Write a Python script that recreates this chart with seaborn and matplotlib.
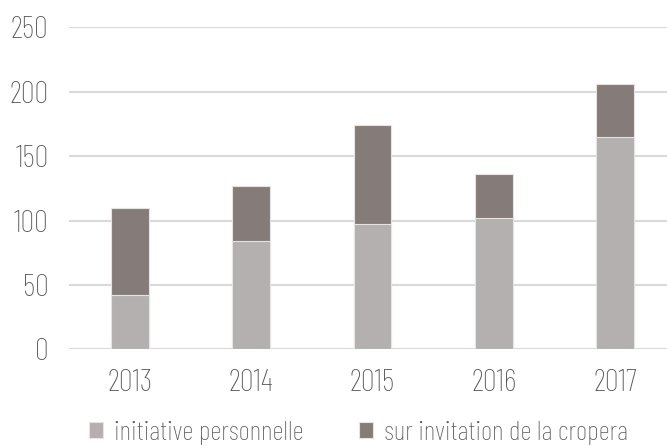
import numpy as np
import pandas as pd
import matplotlib
import matplotlib.pyplot as plt
import seaborn as sns

matplotlib.use('Agg')

# Données
years = ['2013', '2014', '2015', '2016', '2017']
initiative = [42, 84, 97, 102, 165]
invitation = [68, 43, 77, 34, 41]

labels = ['initiative personnelle', 'sur invitation de la cropera']
col_light = '#b3b0af'
col_dark = '#857c7a'
text_col = '#595959'

df = pd.DataFrame({'annee': years, 'initiative': initiative, 'invitation': invitation})
df['total'] = df['initiative'] + df['invitation']

sns.set_style('white')
plt.rcParams['font.family'] = ['Barlow Condensed', 'Fira Sans Condensed', 'Roboto', 'DejaVu Sans']
plt.rcParams['font.weight'] = 'light'

fig = plt.figure(figsize=(6.67, 4.46), dpi=100)
ax = fig.add_axes([0.104, 0.2168, 0.909, 0.722])

# barre totale (foncée) puis initiative (claire) par-dessus
sns.barplot(data=df, x='annee', y='total', color=col_dark, saturation=1, width=0.31,
            edgecolor='#e6e4e3', linewidth=0.8, label=labels[1], ax=ax, zorder=3)
sns.barplot(data=df, x='annee', y='initiative', color=col_light, saturation=1, width=0.31,
            edgecolor='#e6e4e3', linewidth=0.8, label=labels[0], ax=ax, zorder=3)

ax.set_ylim(0, 250)
ax.set_yticks(np.arange(0, 251, 50))
ax.set_xlim(-0.5, 4.5)
ax.yaxis.grid(True, color='#d9d9d9', linewidth=1.5, zorder=0)
ax.set_axisbelow(True)
for s in ax.spines.values():
    s.set_visible(False)
ax.set_xlabel('')
ax.set_ylabel('')
ax.tick_params(axis='both', length=0, labelsize=22.5, labelcolor=text_col)
ax.tick_params(axis='y', pad=15)
ax.tick_params(axis='x', pad=14)

handles, lbls = ax.get_legend_handles_labels()
order = [lbls.index(l) for l in labels]
ax.legend([handles[i] for i in order], [lbls[i] for i in order],
          loc='center', bbox_to_anchor=(0.537, 0.03), bbox_transform=fig.transFigure,
          ncol=2, frameon=False, fontsize=20, labelcolor=text_col,
          handlelength=0.5, handleheight=0.5, handletextpad=0.4, columnspacing=2.0,
          borderaxespad=0, borderpad=0)

fig.savefig('out.png', dpi=100)
